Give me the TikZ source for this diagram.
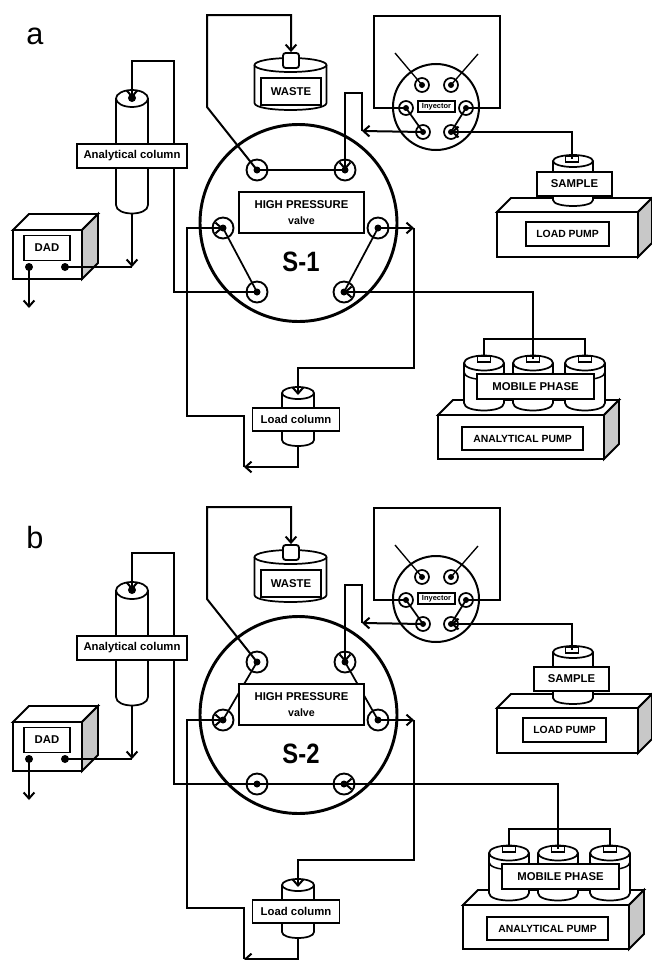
\documentclass[tikz,border=0pt]{standalone}
\usepackage{fontspec}
\setmainfont{Liberation Sans}
\usetikzlibrary{arrows.meta}

\def\px{0.75pt}
\definecolor{sideColour}{HTML}{C8C8C8}

\tikzset{
    >={Straight Barb[length=4.5pt,width=8pt]},
    pipe/.style={line width=1.5pt},
    thinpipe/.style={line width=1pt},
    port/.style={circle,draw,fill=white,line width=1.4pt,minimum size=21*\px,inner sep=0pt,
        path picture={\fill[black] (path picture bounding box.center) circle (3.5);}},
    smallport/.style={port,minimum size=14*\px,line width=1.3pt,
        path picture={\fill[black] (path picture bounding box.center) circle (3);}},
    labelbox/.style={draw,fill=white,line width=1.1pt,inner sep=0pt,align=center,
        font=\bfseries\fontsize{8.5}{11}\selectfont},
    pumpbox/.style={labelbox,font=\bfseries\fontsize{7.8}{10}\selectfont},
    capbox/.style={draw,fill=white,line width=1.1pt,minimum width=13*\px,minimum height=6*\px,inner sep=0pt},
    dot/.style={circle,fill=black,minimum size=8*\px,inner sep=0pt},
}

% centre x, top y, end of side y, half width, half height of ellipse
\newcommand{\drawCylinder}[5]{
    \draw[fill=white,line width=1.3pt] ({#1-#4},#2) -- ({#1-#4},#3)
        .. controls ({#1-#4},{#3+1.33*#5}) and ({#1+#4},{#3+1.33*#5}) .. ({#1+#4},#3) -- ({#1+#4},#2);
    \draw[fill=white,line width=1.3pt] (#1,#2) ellipse [x radius=#4, y radius=#5];
}
% front left, front top, front right, front bottom, depth
\newcommand{\drawCase}[5]{
    \draw[fill=white,line width=1.4pt] (#1,#2) -- ({#1+#5},{#2-#5}) -- ({#3+#5},{#2-#5}) -- (#3,#2) -- cycle;
    \draw[fill=sideColour,line width=1.4pt] (#3,#2) -- ({#3+#5},{#2-#5}) -- ({#3+#5},{#4-#5}) -- (#3,#4) -- cycle;
    \draw[fill=white,line width=1.4pt] (#1,#2) rectangle (#3,#4);
}

\begin{document}
\begin{tikzpicture}[x=\px,y=-\px]
    \useasboundingbox (0,0) rectangle (652,960);

    \foreach \panel/\panelY/\valveName/\loadY/\loadDx/\sampleTop/\sampleEnd/\anX/\anY/\links in {
        a/0/S-1/0/0/161/200/0/0/{vTL/vTR,vL/vBL,vR/vBR},
        b/492/S-2/4/-3/160/206/25/-2/{vTL/vL,vTR/vR,vBL/vBR}}
    {
    \begin{scope}[shift={(0,\panelY)},name prefix=\panel-]
        % Valve and its ports
        \node[circle,draw,line width=2.2pt,minimum size=197*\px,inner sep=0pt] (valve) at (298.5,223) {};
        \node[port] (vTL) at (257,170) {};
        \node[port] (vTR) at (345,170) {};
        \node[port] (vL) at (223,228) {};
        \node[port] (vR) at (378,228) {};
        \node[port] (vBL) at (257,292) {};
        \node[port] (vBR) at (344,292) {};

        % Recycling valve
        \node[circle,draw,line width=1.5pt,minimum size=86*\px,inner sep=0pt] (recycler) at (436,107) {};
        \node[smallport] (rTL) at (422,85) {};
        \node[smallport] (rTR) at (451,85) {};
        \node[smallport] (rL) at (406,108) {};
        \node[smallport] (rR) at (466,108) {};
        \node[smallport] (rBL) at (423,132) {};
        \node[smallport] (rBR) at (451,132) {};

        % Vessels
        \drawCylinder{290.5}{65}{103}{36}{7}
        \node[capbox,line width=1.4pt,rounded corners=2pt,minimum width=16*\px,minimum height=15*\px] (wasteCap) at (291,60.5) {};
        \drawCylinder{132}{98.5}{205}{16}{8.5}
        \drawCylinder{298}{393}{440}{16}{6}
        \drawCase{13}{230}{82}{279}{16}

        \begin{scope}[shift={(0,\loadY)}]
            \drawCase{497}{212}{638}{257}{14}
        \end{scope}
        \drawCylinder{573}{\sampleTop}{\sampleEnd}{20}{6}
        \node[capbox] (sampleCap) at (572,{\sampleTop-2}) {};

        \begin{scope}[shift={(\anX,\anY)}]
            \drawCase{438}{415}{604}{459}{15}
            \foreach \cx/\name in {484/L,533/M,585/R} {
                \drawCylinder{\cx}{363}{403}{20}{7.5}
                \draw[line width=1.1pt] ({\cx-20},372) .. controls ({\cx-20},382) and ({\cx+20},382) .. ({\cx+20},372);
                \node[capbox] (mobile\name) at (\cx,359) {};
            }
        \end{scope}

        % Coordinates where pipes bend or end
        \coordinate (colTop) at (132,98);
        \coordinate (colEnd) at (132,213);
        \coordinate (colOut) at (132,267);
        \coordinate (loadTop) at (298,395);
        \coordinate (loadEnd) at (298,446);
        \coordinate (loadOut) at (244,467);
        \coordinate (vROut) at (414,228);
        \coordinate (recOut) at (362,131);
        \coordinate (freeA) at (395,53);
        \coordinate (freeB) at (478,54);
        \coordinate (dadOut) at (29,308);
        \node[dot] (dadL) at (29,267) {};
        \node[dot] (dadR) at (65,267) {};
        \node[dot] (colDot) at (colTop) {};

        % Links inside the valve
        \foreach \from/\to in \links
            \draw[line width=1.3pt] (\from.center) -- (\to.center);
        \draw[line width=1.3pt] (rL.center) -- (rBL.center);
        \draw[line width=1.3pt] (rR.center) -- (rBR.center);

        % Pipes
        \draw[pipe,->] (vTL.center) -- (207,107) -- (207,15) -- (291,15) -- (wasteCap.north);
        \draw[pipe,->] (vBL.center) -- (174,292) -- (174,61) -- (132,61) -- (colTop);
        \draw[pipe,->] (colEnd) -- (colOut);
        \draw[pipe] (dadR.center) -- (colOut);
        \draw[pipe,->] (dadL.center) -- (dadOut);
        \draw[pipe,->] (loadEnd) -- (298,467) -- (loadOut);
        \draw[pipe,->] (loadOut) -- (244,416) -- (187,416) -- (187,228) -- (vL.center);
        \draw[pipe,->] (vR.center) -- (vROut);
        \draw[pipe,->] (vROut) -- (414,368) -- (298,368) -- (loadTop);
        \draw[pipe,->] (rBL.center) -- (recOut);
        \draw[pipe,->] (recOut) -- (362,93) -- (345,93) -- (vTR.center);
        \draw[pipe] (rL.center) -- (374,108) -- (374,16) -- (500,16) -- (500,108) -- (rR.center);
        \draw[thinpipe] (rTL.center) -- (freeA);
        \draw[thinpipe] (rTR.center) -- (freeB);
        \draw[pipe,->] (sampleCap.center) |- (rBR.center);
        \draw[pipe,->] (mobileM.center) |- (vBR.center);
        \draw[pipe] (mobileL.north) |- ({\anX+534},{\anY+339}) -| (mobileR.north);

        % Labels
        \node[labelbox,minimum width=110*\px,minimum height=24*\px] (colLabel) at (132,156) {Analytical column};
        \node[labelbox,minimum width=60*\px,minimum height=27*\px] (wasteLabel) at (291,91.5) {WASTE};
        \node[labelbox,minimum width=125*\px,minimum height=41*\px] (valveLabel) at (301.5,212.5)
            {HIGH PRESSURE\\[1pt]{\fontsize{8}{10}\selectfont valve}};
        \node[font=\bfseries\fontsize{21}{24}\addfontfeature{FakeStretch=0.85}] (valveName) at (301,262) {\valveName};
        \node[labelbox,minimum width=87*\px,minimum height=23*\px] (loadLabel) at (296,419.5) {Load column};
        \node[labelbox,line width=1pt,minimum width=46*\px,minimum height=25*\px] (dadLabel) at (47,248) {DAD};
        \node[labelbox,line width=1pt,minimum width=37*\px,minimum height=11*\px,font=\bfseries\fontsize{5.6}{7}\selectfont] (recLabel) at (436.5,106.5) {Inyector};
        \node[labelbox,minimum width=75*\px,minimum height=24*\px] (sampleLabel) at ({574.5+\loadDx},{184+\loadY*0.75}) {SAMPLE};
        \node[pumpbox,minimum width=83*\px,minimum height=24*\px] (loadPumpLabel) at ({567.5+\loadDx},{234+\loadY}) {LOAD PUMP};
        \node[labelbox,minimum width=117*\px,minimum height=25*\px] (mobileLabel) at ({535.5+\anX},{386.5+\anY}) {MOBILE PHASE};
        \node[pumpbox,minimum width=121*\px,minimum height=23*\px] (anPumpLabel) at ({522.5+\anX},{438.5+\anY}) {ANALYTICAL PUMP};
    \end{scope}
    }

    \node[font=\fontsize{23}{26}\selectfont] (tagA) at (35,36) {a};
    \node[font=\fontsize{23}{26}\selectfont] (tagB) at (35,538) {b};
\end{tikzpicture}
\end{document}
